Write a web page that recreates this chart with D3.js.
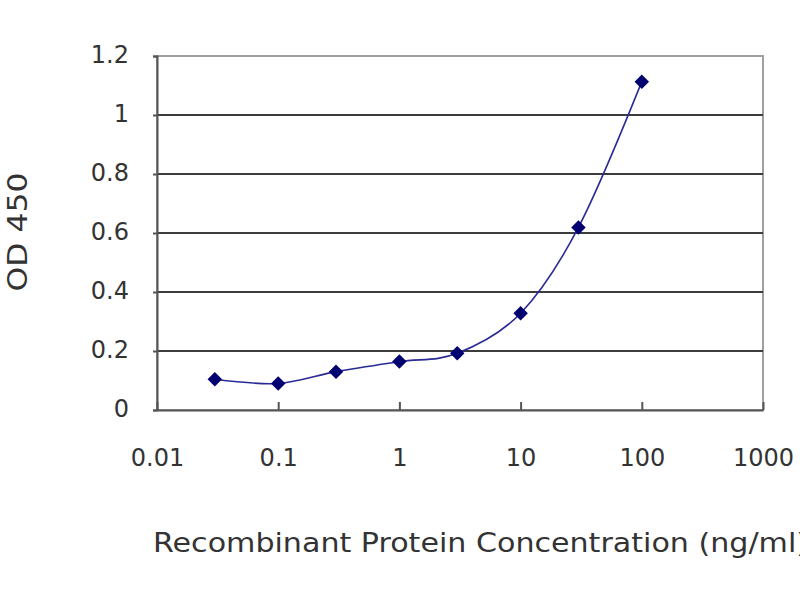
<!DOCTYPE html>
<html>
<head>
<meta charset="utf-8">
<script src="https://cdn.jsdelivr.net/npm/d3@7"></script>
<style>
  body { margin: 0; background: #fff; }
  text { font-family: "DejaVu Sans", sans-serif; fill: #333; }
</style>
</head>
<body>
<div id="chart"></div>
<script>
// concentration (ng/ml) and OD 450 readings
var concentrations = [0.03, 0.1, 0.3, 1, 3, 10, 30, 100];
var odValues = [0.104, 0.09, 0.13, 0.164, 0.192, 0.328, 0.619, 1.113];
var xTicks = [0.01, 0.1, 1, 10, 100, 1000];
var yTicks = [0, 0.2, 0.4, 0.6, 0.8, 1, 1.2];
var xTitle = "Recombinant Protein Concentration (ng/ml)";
var yTitle = "OD 450";

var svgWidth = 800, svgHeight = 600;
var margin = { top: 56, right: 37, bottom: 190, left: 157 };
var width = svgWidth - margin.left - margin.right;
var height = svgHeight - margin.top - margin.bottom;

var svg = d3.select("#chart").append("svg")
    .attr("width", svgWidth)
    .attr("height", svgHeight);

var g = svg.append("g")
    .attr("transform", "translate(" + margin.left + "," + margin.top + ")");

var x = d3.scaleLog()
    .domain([0.01, 1000])
    .range([0, width]);

var y = d3.scaleLinear()
    .domain([0, 1.2])
    .range([height, 0]);

// plot area frame (top / right light gray)
g.append("rect")
    .attr("x", 0).attr("y", 0)
    .attr("width", width).attr("height", height)
    .attr("fill", "#fff")
    .attr("stroke", "#a0a0a0")
    .attr("stroke-width", 2);

// horizontal gridlines
g.append("g").selectAll("line")
    .data(yTicks.filter(function(d) { return d > 0 && d < 1.2; }))
    .enter().append("line")
    .attr("x1", 0).attr("x2", width)
    .attr("y1", function(d) { return y(d); })
    .attr("y2", function(d) { return y(d); })
    .attr("stroke", "#3c3c3c")
    .attr("stroke-width", 2);

// y axis
var yAxis = g.append("g")
    .call(d3.axisLeft(y).tickValues(yTicks).tickSize(4).tickFormat(d3.format("~g")));
yAxis.select(".domain").attr("stroke", "#555").attr("stroke-width", 2);
yAxis.selectAll(".tick line").attr("stroke", "#555").attr("stroke-width", 2);
yAxis.selectAll(".tick text")
    .attr("x", -28)
    .attr("dy", "6")
    .attr("font-size", 24)
    .style("font-family", "DejaVu Sans")
    .attr("fill", "#333");

// x axis, ticks pointing inward
var xAxis = g.append("g")
    .attr("transform", "translate(0," + height + ")")
    .call(d3.axisBottom(x).tickValues(xTicks).tickSizeInner(-8).tickSizeOuter(0)
        .tickFormat(function(d) { return String(d); }));
xAxis.select(".domain").attr("stroke", "#555").attr("stroke-width", 2);
xAxis.selectAll(".tick line").attr("stroke", "#555").attr("stroke-width", 2);
xAxis.selectAll(".tick text")
    .attr("y", 56)
    .attr("dy", "0")
    .attr("font-size", 24)
    .style("font-family", "DejaVu Sans")
    .attr("fill", "#333");

// data
var points = concentrations.map(function(c, i) { return { c: c, v: odValues[i] }; });

var line = d3.line()
    .x(function(d) { return x(d.c); })
    .y(function(d) { return y(d.v); })
    .curve(d3.curveCardinal.tension(0));

g.append("path")
    .datum(points)
    .attr("fill", "none")
    .attr("stroke", "#2a2a96")
    .attr("stroke-width", 1.6)
    .attr("d", line);

g.append("g").selectAll("path")
    .data(points)
    .enter().append("path")
    .attr("d", d3.symbol().type(d3.symbolSquare).size(105))
    .attr("transform", function(d) { return "translate(" + x(d.c) + "," + y(d.v) + ") rotate(45)"; })
    .attr("fill", "#000070");

// axis titles
svg.append("text")
    .attr("x", 153)
    .attr("y", 552)
    .attr("font-size", 26)
    .attr("textLength", 655)
    .attr("lengthAdjust", "spacingAndGlyphs")
    .text(xTitle);

svg.append("text")
    .attr("transform", "translate(27,232) rotate(-90)")
    .attr("text-anchor", "middle")
    .attr("font-size", 26)
    .attr("textLength", 119)
    .attr("lengthAdjust", "spacingAndGlyphs")
    .text(yTitle);
</script>
</body>
</html>
